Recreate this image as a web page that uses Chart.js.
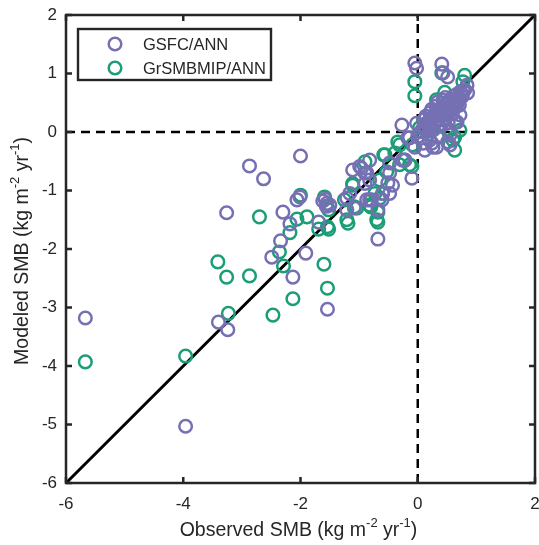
<!DOCTYPE html>
<html><head><meta charset="utf-8">
<script src="https://cdn.jsdelivr.net/npm/chart.js@4/dist/chart.umd.min.js"></script>
<style>html,body{margin:0;padding:0;background:#fff}#wrap{width:539px;height:545px}</style>
</head><body><div id="wrap"><canvas id="c" width="539" height="545"></canvas></div>
<script>
const seriesNames = ["GSFC/ANN", "GrSMBMIP/ANN"];
const xTitleParts = [["Observed SMB (kg m", 0], ["-2", 1], [" yr", 0], ["-1", 1], [")", 0]];
const yTitleParts = [["Modeled SMB (kg m", 0], ["-2", 1], [" yr", 0], ["-1", 1], [")", 0]];
const xTicks = [-6, -4, -2, 0, 2];
const yTicks = [-6, -5, -4, -3, -2, -1, 0, 1, 2];
const gsfcObs = [-5.67,-3.96,-3.40,-3.24,-3.26,-2.87,-2.63,-2.00,-2.06,-2.30,-2.18,-2.34,-2.49,-2.13,-1.91,-1.54,-1.69,-1.62,-1.55,-1.58,-1.50,-1.56,-2.01,-1.21,-1.16,-1.21,-1.08,-0.99,-1.11,-0.82,-0.96,-0.90,-0.87,-0.82,-0.82,-0.87,-0.79,-0.61,-0.68,-0.68,-0.60,-0.90,-0.43,-0.48,-0.48,-0.51,-0.48,-0.22,-0.26,-0.10,-0.17,0.00,-0.27,-0.14,-0.02,0.09,0.26,0.24,0.32,0.20,0.55,0.51,0.55,0.67,0.72,-0.05,0.12,-0.05,-0.02,0.41,0.43,0.51,0.84,0.80,0.85,0.68,0.63,
 0.06,0.09,0.11,0.13,0.16,0.19,0.21,0.23,0.26,0.29,0.31,0.33,0.36,0.39,0.41,0.43,0.46,0.49,0.51,0.53,0.56,0.59,0.61,0.63,0.66,0.71,0.73,0.76,0.78,0.31,0.34,0.24,0.21,0.14,0.11,0.46,0.49,0.56,0.41,0.34,0.61,0.66,0.27,0.18,0.43,0.47,0.52,0.59,0.71];
const gsfcMod = [-3.18,-5.03,-3.25,-3.38,-1.38,-0.58,-0.80,-0.41,-1.16,-1.37,-1.57,-1.86,-2.14,-2.48,-2.07,-3.03,-1.54,-1.18,-1.22,-1.15,-1.25,-1.27,-1.11,-1.13,-1.05,-1.33,-1.30,-0.59,-0.65,-0.48,-0.62,-0.70,-0.70,-0.82,-1.16,-1.16,-1.16,-1.16,-1.33,-1.83,-1.05,-0.88,-0.91,-1.05,-0.53,-0.87,-0.70,-0.48,-0.48,-0.79,-0.10,-0.08,0.12,-0.10,0.15,-0.19,-0.26,-0.19,-0.26,-0.14,-0.22,-0.17,-0.05,0.17,0.29,-0.26,-0.31,1.18,1.09,1.16,1.01,0.94,0.80,0.72,0.67,0.50,0.17,
 0.01,0.06,0.11,0.03,0.16,0.07,0.21,0.12,0.26,0.17,0.31,0.22,0.36,0.27,0.41,0.31,0.46,0.37,0.51,0.41,0.56,0.47,0.61,0.52,0.64,0.59,0.69,0.61,0.71,0.44,0.51,0.39,0.33,0.27,0.21,0.24,0.29,0.36,0.14,0.09,0.41,0.44,0.04,-0.04,0.54,0.59,0.16,0.31,0.46];
const grsmObs = [-5.67,-3.96,-3.41,-3.26,-2.87,-3.23,-2.47,-2.13,-2.36,-2.29,-2.70,-2.00,-2.06,-1.89,-2.18,-1.60,-1.54,-1.69,-1.52,-1.59,-1.52,-1.21,-1.19,-0.90,-1.11,-0.70,-0.80,-1.08,-0.82,-0.68,-0.65,-1.11,-0.58,-0.31,-0.22,-0.10,-1.25,-0.65,-0.73,-0.68,-0.53,-1.04,-1.54,-0.34,0.03,-0.09,0.34,0.60,0.72,-0.39,-0.31,-0.14,-0.56,-0.60,-0.05,-0.05,0.41,0.80,0.77,0.55,0.63,0.63,0.32,0.46,0.20,0.35,0.50,0.60,0.70];
const grsmMod = [-3.93,-3.83,-2.22,-2.48,-2.46,-3.10,-3.13,-2.85,-2.05,-2.29,-1.45,-1.08,-1.49,-1.45,-1.72,-2.26,-2.67,-1.66,-1.66,-1.11,-1.33,-1.50,-1.56,-0.51,-0.91,-1.50,-1.28,-1.28,-1.25,-1.54,-1.13,-0.88,-0.39,-0.22,-0.48,-0.59,-1.16,-0.82,-1.05,-1.37,-0.68,-1.30,-1.62,-0.17,0.07,-0.22,-0.09,-0.14,0.03,-0.36,-0.56,-0.56,-0.39,-1.05,0.86,0.62,1.01,0.97,0.86,0.03,-0.09,-0.31,0.55,0.68,0.10,0.20,0.40,0.50,0.55];

const purple = '#7570b3', green = '#1b9e77';
const pts = (xs, ys) => xs.map((x, i) => ({x: x, y: ys[i]}));
const FONT = '"Liberation Sans", Arial, Helvetica, sans-serif';
const TXT = '#262626';
const R = 6.3, BW = 2.5;
const MAIN = 19.5, SUP = 13, RAISE = 7.5;

function drawRich(ctx, parts, cx, cy) {
  const w = parts.map(([t, s]) => { ctx.font = (s ? SUP : MAIN) + 'px ' + FONT; return ctx.measureText(t).width; });
  const total = w.reduce((a, b) => a + b, 0);
  let x = cx - total / 2;
  ctx.textAlign = 'left'; ctx.textBaseline = 'middle'; ctx.fillStyle = TXT;
  parts.forEach(([t, s], i) => {
    ctx.font = (s ? SUP : MAIN) + 'px ' + FONT;
    ctx.fillText(t, x, s ? cy - RAISE : cy);
    x += w[i];
  });
}

const framePlugin = {
  id: 'frame',
  afterDatasetsDraw(chart) {
    const ctx = chart.ctx, a = chart.chartArea, xs = chart.scales.x, ys = chart.scales.y;
    ctx.save();
    ctx.strokeStyle = '#262626'; ctx.lineWidth = 2.5;
    const tl = 6;
    ctx.beginPath();
    xTicks.forEach(v => { const p = xs.getPixelForValue(v);
      ctx.moveTo(p, a.bottom); ctx.lineTo(p, a.bottom - tl);
      ctx.moveTo(p, a.top); ctx.lineTo(p, a.top + tl); });
    yTicks.forEach(v => { const p = ys.getPixelForValue(v);
      ctx.moveTo(a.left, p); ctx.lineTo(a.left + tl, p);
      ctx.moveTo(a.right, p); ctx.lineTo(a.right - tl, p); });
    ctx.stroke();
    ctx.strokeRect(a.left, a.top, a.right - a.left, a.bottom - a.top);
    // legend
    ctx.lineWidth = 2.4; ctx.strokeStyle = '#262626';
    ctx.fillStyle = '#fff';
    ctx.fillRect(78, 29, 193, 51);
    ctx.strokeRect(78, 29, 193, 51);
    const items = [[seriesNames[0], purple, 44], [seriesNames[1], green, 68]];
    ctx.font = '16.5px ' + FONT; ctx.textBaseline = 'middle'; ctx.textAlign = 'left';
    items.forEach(([t, c, y]) => {
      ctx.strokeStyle = c; ctx.lineWidth = BW;
      ctx.beginPath(); ctx.arc(115, y, R, 0, Math.PI * 2); ctx.stroke();
      ctx.fillStyle = TXT; ctx.fillText(t, 143, y + 1);
    });
    // axis titles
    drawRich(ctx, xTitleParts, (a.left + a.right) / 2 - 2, 531);
    ctx.translate(23, (a.top + a.bottom) / 2 + 2);
    ctx.rotate(-Math.PI / 2);
    drawRich(ctx, yTitleParts, 0, 0);
    ctx.restore();
  }
};

new Chart(document.getElementById('c'), {
  type: 'scatter',
  data: {
    datasets: [
      {label: seriesNames[0], data: pts(gsfcObs, gsfcMod), borderColor: purple, backgroundColor: 'rgba(0,0,0,0)', pointRadius: R, pointBorderWidth: BW, pointHoverRadius: R},
      {label: seriesNames[1], data: pts(grsmObs, grsmMod), borderColor: green, backgroundColor: 'rgba(0,0,0,0)', pointRadius: R, pointBorderWidth: BW, pointHoverRadius: R},
      {type: 'line', label: '1:1', data: [{x: -6, y: -6}, {x: 2, y: 2}], borderColor: '#000', borderWidth: 3, pointRadius: 0, fill: false},
      {type: 'line', label: 'v0', data: [{x: 0, y: -6}, {x: 0, y: 2}], borderColor: '#000', borderWidth: 2.5, borderDash: [9, 6], pointRadius: 0, fill: false},
      {type: 'line', label: 'h0', data: [{x: -6, y: 0}, {x: 2, y: 0}], borderColor: '#000', borderWidth: 2.5, borderDash: [9, 6], pointRadius: 0, fill: false}
    ]
  },
  options: {
    responsive: false, animation: false, devicePixelRatio: 1,
    layout: {autoPadding: false, padding: {top: 15, right: 4, left: 0, bottom: 0}},
    plugins: {legend: {display: false}, tooltip: {enabled: false}},
    scales: {
      x: {type: 'linear', min: -6, max: 2,
        afterBuildTicks: s => { s.ticks = xTicks.map(v => ({value: v})); },
        afterFit: s => { s.height = 62; s.paddingLeft = 0; s.paddingRight = 0; },
        grid: {display: false, drawTicks: false}, border: {display: false},
        ticks: {color: TXT, font: {family: FONT, size: 17}, padding: 11, maxRotation: 0},
        title: {display: false}
      },
      y: {type: 'linear', min: -6, max: 2,
        afterBuildTicks: s => { s.ticks = yTicks.map(v => ({value: v})); },
        afterFit: s => { s.width = 66; s.paddingTop = 0; s.paddingBottom = 0; },
        grid: {display: false, drawTicks: false}, border: {display: false},
        ticks: {color: TXT, font: {family: FONT, size: 17}, padding: 9},
        title: {display: false}
      }
    }
  },
  plugins: [framePlugin]
});
</script></body></html>
